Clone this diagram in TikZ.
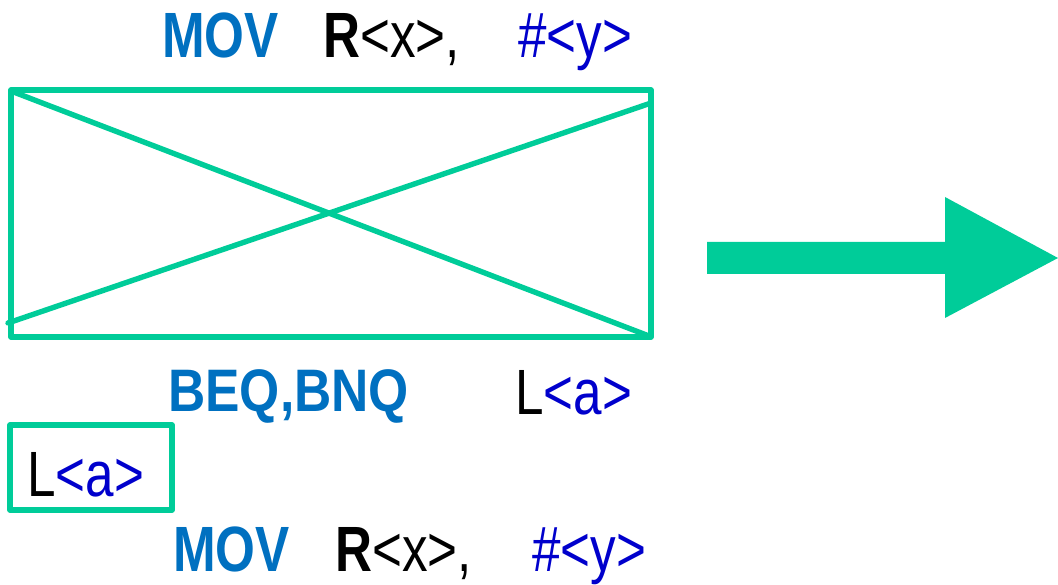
\documentclass[tikz,border=0pt]{standalone}
\usepackage{fontspec}
\setmainfont{Liberation Sans}[FakeStretch=0.8]
\newfontfamily\branchfont{Liberation Sans}[FakeStretch=0.86]

\definecolor{mint}{HTML}{00CC99}
\definecolor{opblue}{HTML}{0070C0}
\definecolor{argblue}{HTML}{0000CC}

\begin{document}
\begin{tikzpicture}[
        x = 1pt, y = -1pt,
        frame/.style = {draw = mint, line width = 5.4pt, line join = round, line cap = round},
        asm/.style = {anchor = base west, inner sep = 0pt,
            font = \fontsize{64}{72}\selectfont},
        op/.style = {asm, text = opblue,
            font = \fontsize{64}{72}\selectfont\bfseries}
    ]

        \useasboundingbox (0, 0) rectangle (1058, 585);

        % Corners of the crossed-out block.
        \coordinate (TL) at (11, 90);
        \coordinate (BR) at (651, 337);
        \coordinate (X1a) at (11, 91);
        \coordinate (X1b) at (649, 336);
        \coordinate (X2a) at (8, 323);
        \coordinate (X2b) at (651, 103);

        % First instruction.
        \node[op] (mov1) at (162, 58) {MOV};
        \node[asm] (reg1) at (323, 58) {\textbf{R}<x>,};
        \node[asm, text = argblue] (imm1) at (518, 58) {\#<y>};

        % Removed block.
        \draw[frame] (TL) rectangle (BR);
        \draw[frame] (X1a) -- (X1b);
        \draw[frame] (X2a) -- (X2b);

        % Branch and its target.
        \node[op, font = \branchfont\fontsize{60}{66}\selectfont\bfseries] (branch) at (168, 411) {BEQ,BNQ};
        \node[asm] (target) at (515, 414) {L\textcolor{argblue}{<a>}};

        % Label.
        \draw[frame] (10, 425) rectangle (172, 510);
        \node[asm] (label) at (27, 496) {L\textcolor{argblue}{<a>}};

        % Second instruction.
        \node[op] (mov2) at (173, 571) {MOV};
        \node[asm] (reg2) at (335, 571) {\textbf{R}<x>,};
        \node[asm, text = argblue] (imm2) at (532, 571) {\#<y>};

        % Big arrow.
        \fill[mint] (707, 242) -- (945, 242) -- (945, 197) -- (1058, 258)
            -- (945, 318) -- (945, 274) -- (707, 274) -- cycle;
    \end{tikzpicture}
\end{document}
